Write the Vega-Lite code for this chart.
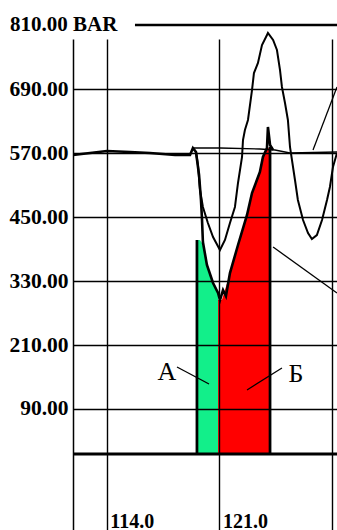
{
  "$schema": "https://vega.github.io/schema/vega-lite/v6.json",
  "autosize": {"type": "none"},
  "padding": {"left": 73, "top": 39, "right": 0, "bottom": 0},
  "width": 264,
  "height": 491,
  "background": "white",
  "config": {"view": {"stroke": null}},
  "datasets": {
    "areas": [
      {"x": 119.60, "y": 407.0, "s": "A"},
      {"x": 119.79, "y": 407.0, "s": "A"},
      {"x": 119.91, "y": 401.3, "s": "A"},
      {"x": 120.10, "y": 384.5, "s": "A"},
      {"x": 120.28, "y": 356.3, "s": "A"},
      {"x": 120.53, "y": 331.9, "s": "A"},
      {"x": 120.72, "y": 322.5, "s": "A"},
      {"x": 120.91, "y": 309.4, "s": "A"},
      {"x": 120.91, "y": 294.4, "s": "B"},
      {"x": 121.15, "y": 294.4, "s": "B"},
      {"x": 121.34, "y": 313.1, "s": "B"},
      {"x": 121.53, "y": 331.9, "s": "B"},
      {"x": 121.78, "y": 354.4, "s": "B"},
      {"x": 122.15, "y": 397.6, "s": "B"},
      {"x": 122.46, "y": 429.5, "s": "B"},
      {"x": 122.71, "y": 453.9, "s": "B"},
      {"x": 122.89, "y": 478.2, "s": "B"},
      {"x": 123.08, "y": 500.8, "s": "B"},
      {"x": 123.33, "y": 519.5, "s": "B"},
      {"x": 123.51, "y": 534.5, "s": "B"},
      {"x": 123.70, "y": 557.0, "s": "B"},
      {"x": 123.89, "y": 575.8, "s": "B"},
      {"x": 124.14, "y": 581.4, "s": "B"}
    ],
    "curves": [
      {"c": "Q", "x": 111.9, "y": 566.4},
      {"c": "Q", "x": 112.96, "y": 570.2},
      {"c": "Q", "x": 114.01, "y": 573.9},
      {"c": "Q", "x": 115.44, "y": 572.0},
      {"c": "Q", "x": 116.68, "y": 570.2},
      {"c": "Q", "x": 118.24, "y": 566.4},
      {"c": "Q", "x": 119.17, "y": 566.4},
      {"c": "Q", "x": 119.35, "y": 579.5},
      {"c": "Q", "x": 119.54, "y": 572.0},
      {"c": "Q", "x": 119.73, "y": 529.0},
      {"c": "Q", "x": 119.85, "y": 482.0},
      {"c": "Q", "x": 119.91, "y": 448.2},
      {"c": "Q", "x": 119.97, "y": 403.2},
      {"c": "Q", "x": 120.22, "y": 360.1},
      {"c": "Q", "x": 120.60, "y": 326.3},
      {"c": "Q", "x": 120.91, "y": 307.6},
      {"c": "Q", "x": 121.03, "y": 294.4},
      {"c": "Q", "x": 121.22, "y": 313.1},
      {"c": "Q", "x": 121.40, "y": 301.9},
      {"c": "Q", "x": 121.65, "y": 345.0},
      {"c": "Q", "x": 122.15, "y": 397.6},
      {"c": "Q", "x": 122.71, "y": 453.9},
      {"c": "Q", "x": 123.02, "y": 495.1},
      {"c": "Q", "x": 123.51, "y": 534.5},
      {"c": "Q", "x": 123.70, "y": 562.7},
      {"c": "Q", "x": 123.95, "y": 579.5},
      {"c": "Q", "x": 124.01, "y": 618.9},
      {"c": "Q", "x": 124.14, "y": 585.2},
      {"c": "Q", "x": 124.33, "y": 575.8},
      {"c": "P", "x": 119.54, "y": 572.0},
      {"c": "P", "x": 119.66, "y": 547.7},
      {"c": "P", "x": 119.79, "y": 500.8},
      {"c": "P", "x": 119.97, "y": 468.9},
      {"c": "P", "x": 120.28, "y": 438.9},
      {"c": "P", "x": 120.60, "y": 412.6},
      {"c": "P", "x": 121.03, "y": 388.2},
      {"c": "P", "x": 121.34, "y": 407.0},
      {"c": "P", "x": 121.65, "y": 438.9},
      {"c": "P", "x": 121.96, "y": 468.9},
      {"c": "P", "x": 122.15, "y": 513.9},
      {"c": "P", "x": 122.40, "y": 562.7},
      {"c": "P", "x": 122.46, "y": 594.5},
      {"c": "P", "x": 122.58, "y": 613.3},
      {"c": "P", "x": 122.77, "y": 632.1},
      {"c": "P", "x": 123.02, "y": 688.3},
      {"c": "P", "x": 123.14, "y": 720.2},
      {"c": "P", "x": 123.39, "y": 739.0},
      {"c": "P", "x": 123.64, "y": 772.7},
      {"c": "P", "x": 123.89, "y": 787.8},
      {"c": "P", "x": 124.01, "y": 795.3},
      {"c": "P", "x": 124.33, "y": 782.1},
      {"c": "P", "x": 124.57, "y": 763.4},
      {"c": "P", "x": 124.76, "y": 725.8},
      {"c": "P", "x": 124.88, "y": 694.0},
      {"c": "P", "x": 125.07, "y": 664.0},
      {"c": "P", "x": 125.25, "y": 632.1},
      {"c": "P", "x": 125.38, "y": 581.4},
      {"c": "P", "x": 125.69, "y": 519.5},
      {"c": "P", "x": 125.87, "y": 482.0},
      {"c": "P", "x": 126.19, "y": 444.5},
      {"c": "P", "x": 126.50, "y": 420.1},
      {"c": "P", "x": 126.74, "y": 408.8},
      {"c": "P", "x": 127.05, "y": 416.3},
      {"c": "P", "x": 127.37, "y": 444.5},
      {"c": "P", "x": 127.68, "y": 482.0},
      {"c": "P", "x": 127.86, "y": 506.4},
      {"c": "P", "x": 128.05, "y": 543.9},
      {"c": "P", "x": 128.30, "y": 570.2},
      {"c": "R", "x": 119.35, "y": 579.5},
      {"c": "R", "x": 121.03, "y": 579.5},
      {"c": "R", "x": 123.51, "y": 577.7},
      {"c": "R", "x": 124.45, "y": 575.8},
      {"c": "R", "x": 125.38, "y": 570.2},
      {"c": "R", "x": 128.30, "y": 572.0},
      {"c": "D1", "x": 126.81, "y": 575.8},
      {"c": "D1", "x": 128.30, "y": 694.0},
      {"c": "D2", "x": 124.33, "y": 393.8},
      {"c": "D2", "x": 128.30, "y": 307.6},
      {"c": "LA", "x": 118.36, "y": 168.7},
      {"c": "LA", "x": 120.35, "y": 136.8},
      {"c": "LB", "x": 122.71, "y": 125.6},
      {"c": "LB", "x": 124.88, "y": 166.9}
    ],
    "rules": [
      {"kind": "base", "x": 111.9, "x2": 128.3, "y": 5.5, "y2": 5.5},
      {"kind": "edge", "x": 119.60, "x2": 119.60, "y": 5.5, "y2": 407.0},
      {"kind": "edge", "x": 124.14, "x2": 124.14, "y": 5.5, "y2": 581.4},
      {"kind": "top", "x": 115.75, "x2": 128.3, "y": 810.3, "y2": 810.3}
    ],
    "letters": [
      {"t": "А", "x": 117.74, "y": 159.4},
      {"t": "Б", "x": 125.75, "y": 155.6}
    ],
    "unit": [
      {"t": "810.00  BAR", "x": 107.99, "y": 810.3}
    ]
  },
  "encoding": {
    "x": {"field": "x", "type": "quantitative",
      "scale": {"domain": [111.9, 128.3], "nice": false, "zero": false},
      "axis": {"values": [114, 121, 128], "labelExpr": "datum.value == 128 ? '' : format(datum.value, '.1f')",
        "title": null, "grid": true, "gridColor": "#000000", "gridWidth": 1.4, "gridOpacity": 1,
        "domain": false, "ticks": false, "tickSize": 0,
        "labelAlign": "left", "labelOffset": 3, "labelPadding": -3, "labelBaseline": "alphabetic",
        "labelFont": "Liberation Serif", "labelFontWeight": "bold", "labelFontSize": 20, "labelColor": "#000000",
        "zindex": 1}},
    "y": {"field": "y", "type": "quantitative",
      "scale": {"domain": [-137, 784], "nice": false, "zero": false},
      "axis": {"values": [90, 210, 330, 450, 570, 690], "format": ".2f",
        "title": null, "grid": true, "gridColor": "#000000", "gridWidth": 1.4, "gridOpacity": 1,
        "domain": true, "domainColor": "#000000", "domainWidth": 1.5, "ticks": false,
        "labelPadding": 5, "labelFont": "Liberation Serif", "labelFontWeight": "bold", "labelFontSize": 21.5, "labelColor": "#000000",
        "zindex": 1}}
  },
  "layer": [
    {
      "data": {"name": "areas"},
      "mark": {"type": "area", "interpolate": "linear", "clip": true},
      "encoding": {
        "y2": {"datum": 5.5},
        "color": {"field": "s", "type": "nominal", "legend": null,
          "scale": {"domain": ["A", "B"], "range": ["#12ef8a", "#ff0000"]}}
      }
    },
    {
      "data": {"name": "rules"},
      "mark": {"type": "rule", "color": "#000000", "clip": false},
      "encoding": {
        "x2": {"field": "x2"},
        "y2": {"field": "y2"},
        "strokeWidth": {"field": "kind", "type": "nominal", "legend": null,
          "scale": {"domain": ["base", "edge", "top"], "range": [3, 2.5, 1.2]}}
      }
    },
    {
      "data": {"name": "curves"},
      "transform": [{"filter": "datum.c == 'R' || datum.c == 'D1' || datum.c == 'D2' || datum.c == 'LA' || datum.c == 'LB'"}],
      "mark": {"type": "line", "color": "#000000", "strokeWidth": 1.3, "clip": true},
      "encoding": {"detail": {"field": "c", "type": "nominal"}}
    },
    {
      "data": {"name": "curves"},
      "transform": [{"filter": "datum.c == 'P'"}],
      "mark": {"type": "line", "color": "#000000", "strokeWidth": 2, "clip": false},
      "encoding": {"detail": {"field": "c", "type": "nominal"}}
    },
    {
      "data": {"name": "curves"},
      "transform": [{"filter": "datum.c == 'Q'"}],
      "mark": {"type": "line", "color": "#000000", "strokeWidth": 2.6, "clip": true},
      "encoding": {"detail": {"field": "c", "type": "nominal"}}
    },
    {
      "data": {"name": "letters"},
      "mark": {"type": "text", "font": "Liberation Serif", "fontSize": 26, "color": "#000000", "align": "center", "baseline": "middle"},
      "encoding": {"text": {"field": "t"}}
    },
    {
      "data": {"name": "unit"},
      "mark": {"type": "text", "font": "Liberation Serif", "fontWeight": "bold", "fontSize": 21, "color": "#000000", "align": "left", "baseline": "middle"},
      "encoding": {"text": {"field": "t"}}
    }
  ]
}
